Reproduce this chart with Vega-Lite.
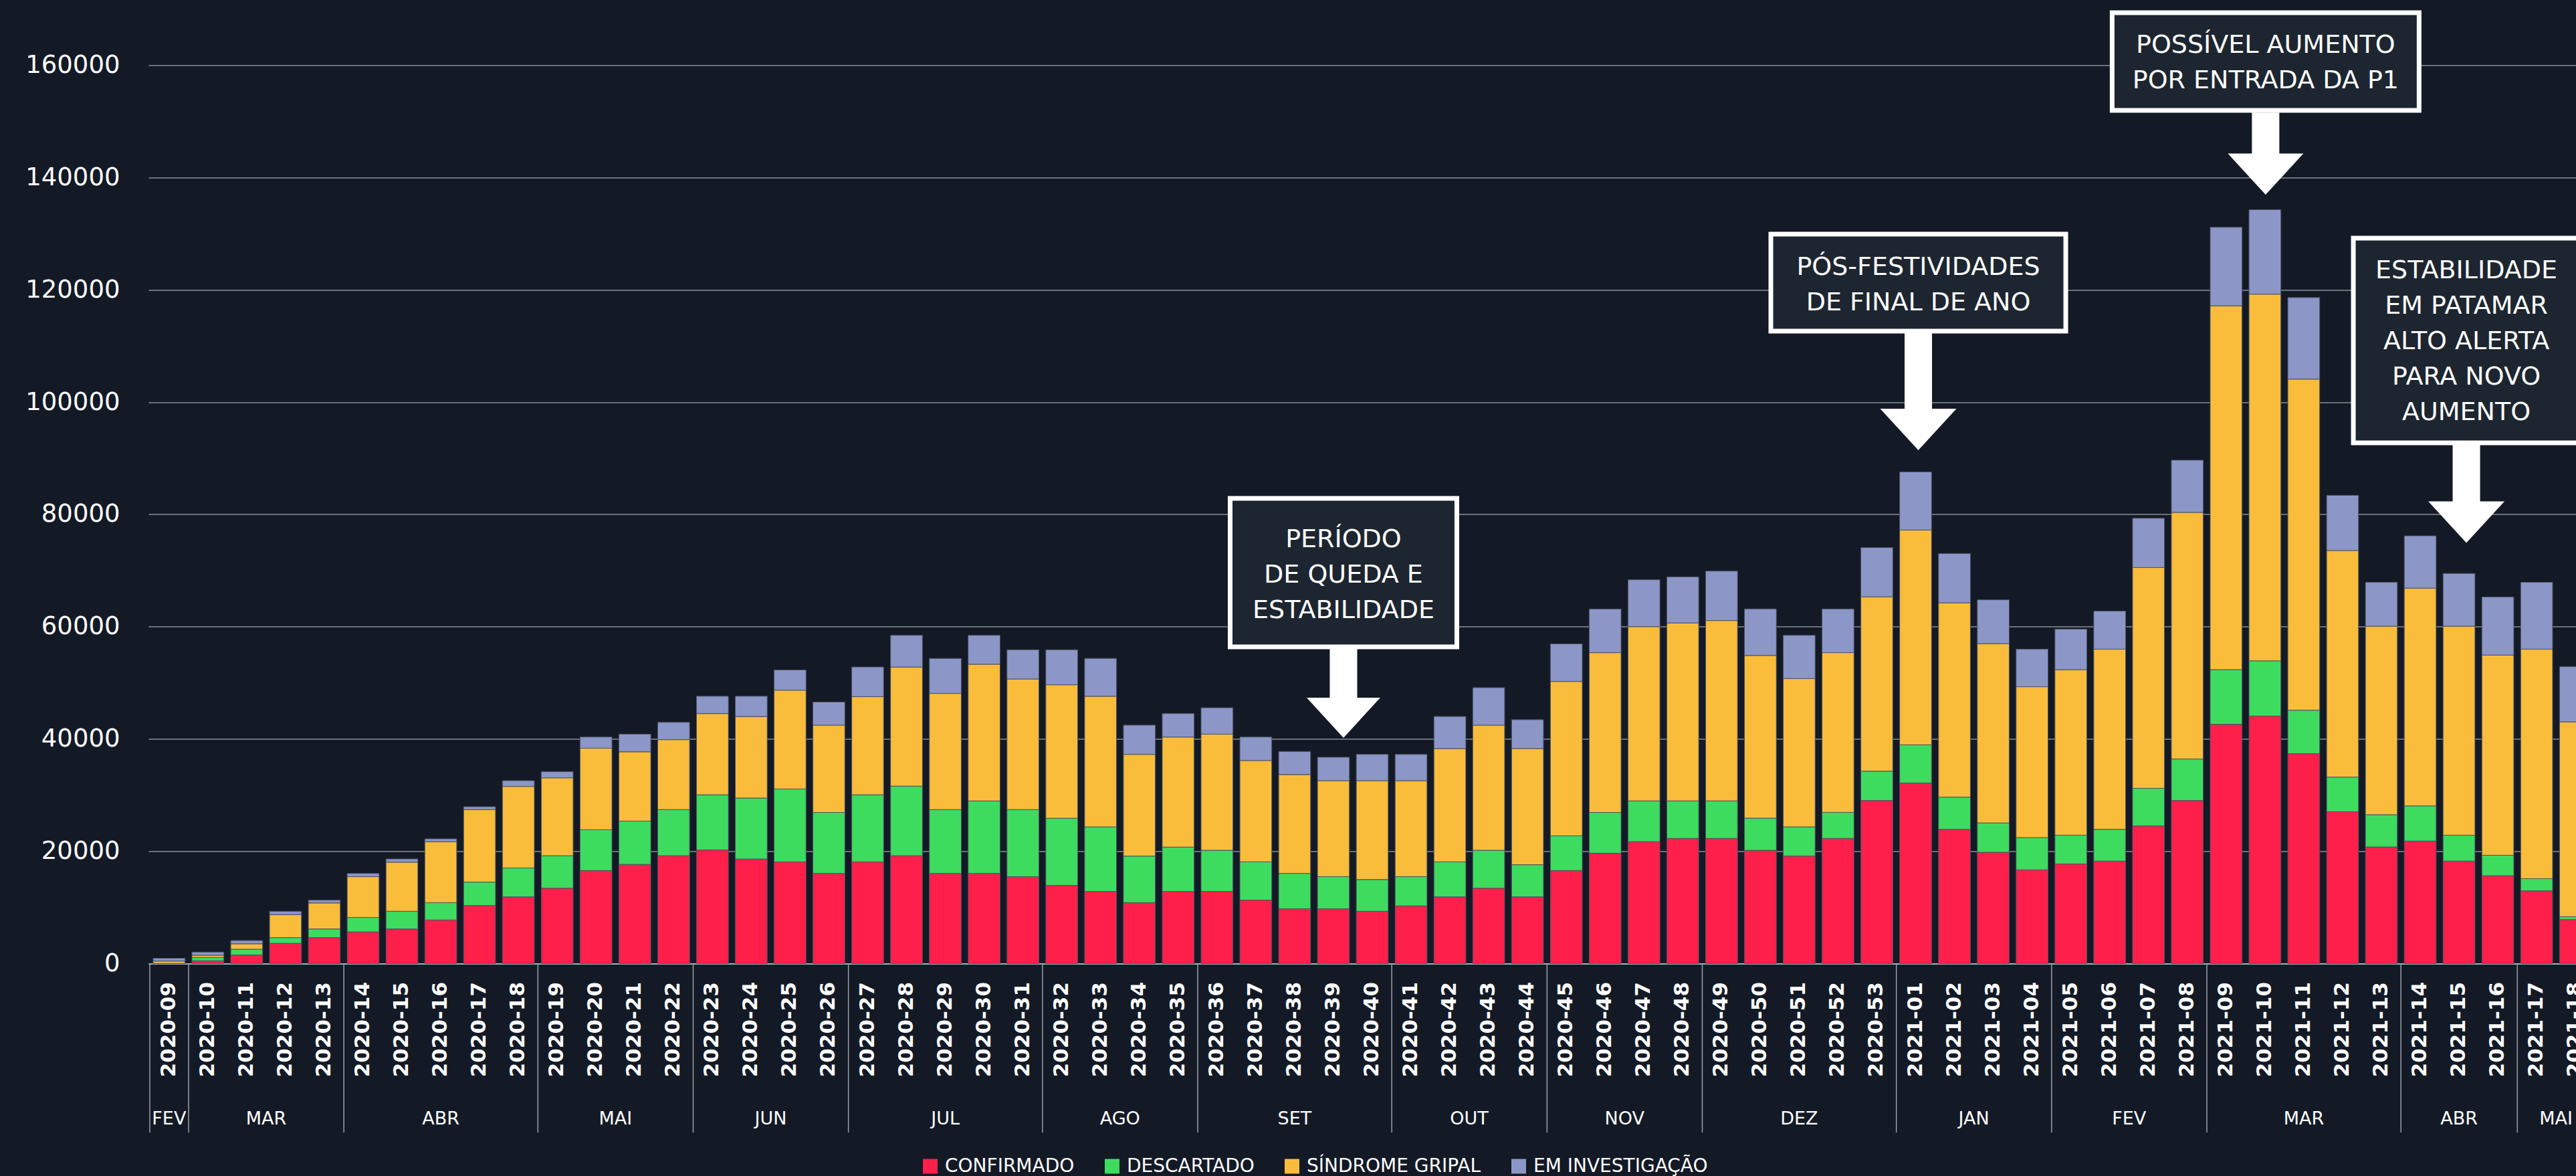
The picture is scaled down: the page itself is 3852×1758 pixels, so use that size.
{
  "$schema": "https://vega.github.io/schema/vega-lite/v6.json",
  "background": "#131a26",
  "autosize": "none",
  "padding": {"left": 222, "top": 13.5, "right": -30, "bottom": 317.5},
  "width": 3660,
  "height": 1427,
  "config": {"view": {"stroke": null}, "font": "DejaVu Sans"},
  "datasets": {
    "categorias": [
      {"categoria": "CONFIRMADO", "ordem": 1},
      {"categoria": "DESCARTADO", "ordem": 2},
      {"categoria": "SÍNDROME GRIPAL", "ordem": 3},
      {"categoria": "EM INVESTIGAÇÃO", "ordem": 4}
    ],
    "meses": [
      {"mes": "FEV", "inicio": "2020-09", "centro": "2020-09", "semanas": 1},
      {"mes": "MAR", "inicio": "2020-10", "centro": "2020-11", "semanas": 4},
      {"mes": "ABR", "inicio": "2020-14", "centro": "2020-16", "semanas": 5},
      {"mes": "MAI", "inicio": "2020-19", "centro": "2020-20", "semanas": 4},
      {"mes": "JUN", "inicio": "2020-23", "centro": "2020-24", "semanas": 4},
      {"mes": "JUL", "inicio": "2020-27", "centro": "2020-29", "semanas": 5},
      {"mes": "AGO", "inicio": "2020-32", "centro": "2020-33", "semanas": 4},
      {"mes": "SET", "inicio": "2020-36", "centro": "2020-38", "semanas": 5},
      {"mes": "OUT", "inicio": "2020-41", "centro": "2020-42", "semanas": 4},
      {"mes": "NOV", "inicio": "2020-45", "centro": "2020-46", "semanas": 4},
      {"mes": "DEZ", "inicio": "2020-49", "centro": "2020-51", "semanas": 5},
      {"mes": "JAN", "inicio": "2021-01", "centro": "2021-02", "semanas": 4},
      {"mes": "FEV", "inicio": "2021-05", "centro": "2021-06", "semanas": 4},
      {"mes": "MAR", "inicio": "2021-09", "centro": "2021-11", "semanas": 5},
      {"mes": "ABR", "inicio": "2021-14", "centro": "2021-15", "semanas": 3},
      {"mes": "MAI", "inicio": "2021-17", "centro": "2021-17", "semanas": 2}
    ],
    "semanas": [
      {"semana": "2020-09", "CONFIRMADO": 0, "DESCARTADO": 30, "SÍNDROME GRIPAL": 420, "EM INVESTIGAÇÃO": 500},
      {"semana": "2020-10", "CONFIRMADO": 510, "DESCARTADO": 580, "SÍNDROME GRIPAL": 390, "EM INVESTIGAÇÃO": 580},
      {"semana": "2020-11", "CONFIRMADO": 1540, "DESCARTADO": 1030, "SÍNDROME GRIPAL": 960, "EM INVESTIGAÇÃO": 580},
      {"semana": "2020-12", "CONFIRMADO": 3600, "DESCARTADO": 1030, "SÍNDROME GRIPAL": 4110, "EM INVESTIGAÇÃO": 580},
      {"semana": "2020-13", "CONFIRMADO": 4630, "DESCARTADO": 1540, "SÍNDROME GRIPAL": 4630, "EM INVESTIGAÇÃO": 510},
      {"semana": "2020-14", "CONFIRMADO": 5650, "DESCARTADO": 2570, "SÍNDROME GRIPAL": 7260, "EM INVESTIGAÇÃO": 580},
      {"semana": "2020-15", "CONFIRMADO": 6170, "DESCARTADO": 3150, "SÍNDROME GRIPAL": 8740, "EM INVESTIGAÇÃO": 580},
      {"semana": "2020-16", "CONFIRMADO": 7770, "DESCARTADO": 3080, "SÍNDROME GRIPAL": 10860, "EM INVESTIGAÇÃO": 510},
      {"semana": "2020-17", "CONFIRMADO": 10340, "DESCARTADO": 4180, "SÍNDROME GRIPAL": 12910, "EM INVESTIGAÇÃO": 510},
      {"semana": "2020-18", "CONFIRMADO": 11890, "DESCARTADO": 5140, "SÍNDROME GRIPAL": 14520, "EM INVESTIGAÇÃO": 1030},
      {"semana": "2020-19", "CONFIRMADO": 13430, "DESCARTADO": 5780, "SÍNDROME GRIPAL": 13880, "EM INVESTIGAÇÃO": 1090},
      {"semana": "2020-20", "CONFIRMADO": 16580, "DESCARTADO": 7260, "SÍNDROME GRIPAL": 14520, "EM INVESTIGAÇÃO": 1990},
      {"semana": "2020-21", "CONFIRMADO": 17670, "DESCARTADO": 7710, "SÍNDROME GRIPAL": 12340, "EM INVESTIGAÇÃO": 3150},
      {"semana": "2020-22", "CONFIRMADO": 19210, "DESCARTADO": 8220, "SÍNDROME GRIPAL": 12460, "EM INVESTIGAÇÃO": 3080},
      {"semana": "2020-23", "CONFIRMADO": 20240, "DESCARTADO": 9830, "SÍNDROME GRIPAL": 14460, "EM INVESTIGAÇÃO": 3080},
      {"semana": "2020-24", "CONFIRMADO": 18630, "DESCARTADO": 10860, "SÍNDROME GRIPAL": 14520, "EM INVESTIGAÇÃO": 3600},
      {"semana": "2020-25", "CONFIRMADO": 18120, "DESCARTADO": 12980, "SÍNDROME GRIPAL": 17600, "EM INVESTIGAÇÃO": 3600},
      {"semana": "2020-26", "CONFIRMADO": 16060, "DESCARTADO": 10860, "SÍNDROME GRIPAL": 15550, "EM INVESTIGAÇÃO": 4110},
      {"semana": "2020-27", "CONFIRMADO": 18120, "DESCARTADO": 11950, "SÍNDROME GRIPAL": 17480, "EM INVESTIGAÇÃO": 5270},
      {"semana": "2020-28", "CONFIRMADO": 19210, "DESCARTADO": 12400, "SÍNDROME GRIPAL": 21200, "EM INVESTIGAÇÃO": 5650},
      {"semana": "2020-29", "CONFIRMADO": 16060, "DESCARTADO": 11370, "SÍNDROME GRIPAL": 20690, "EM INVESTIGAÇÃO": 6230},
      {"semana": "2020-30", "CONFIRMADO": 16060, "DESCARTADO": 12910, "SÍNDROME GRIPAL": 24350, "EM INVESTIGAÇÃO": 5140},
      {"semana": "2020-31", "CONFIRMADO": 15480, "DESCARTADO": 11950, "SÍNDROME GRIPAL": 23260, "EM INVESTIGAÇÃO": 5200},
      {"semana": "2020-32", "CONFIRMADO": 13940, "DESCARTADO": 11950, "SÍNDROME GRIPAL": 23770, "EM INVESTIGAÇÃO": 6230},
      {"semana": "2020-33", "CONFIRMADO": 12850, "DESCARTADO": 11500, "SÍNDROME GRIPAL": 23260, "EM INVESTIGAÇÃO": 6750},
      {"semana": "2020-34", "CONFIRMADO": 10860, "DESCARTADO": 8290, "SÍNDROME GRIPAL": 18120, "EM INVESTIGAÇÃO": 5200},
      {"semana": "2020-35", "CONFIRMADO": 12850, "DESCARTADO": 7900, "SÍNDROME GRIPAL": 19600, "EM INVESTIGAÇÃO": 4180},
      {"semana": "2020-36", "CONFIRMADO": 12850, "DESCARTADO": 7330, "SÍNDROME GRIPAL": 20690, "EM INVESTIGAÇÃO": 4690},
      {"semana": "2020-37", "CONFIRMADO": 11310, "DESCARTADO": 6810, "SÍNDROME GRIPAL": 18050, "EM INVESTIGAÇÃO": 4180},
      {"semana": "2020-38", "CONFIRMADO": 9770, "DESCARTADO": 6300, "SÍNDROME GRIPAL": 17600, "EM INVESTIGAÇÃO": 4110},
      {"semana": "2020-39", "CONFIRMADO": 9770, "DESCARTADO": 5720, "SÍNDROME GRIPAL": 17090, "EM INVESTIGAÇÃO": 4180},
      {"semana": "2020-40", "CONFIRMADO": 9320, "DESCARTADO": 5650, "SÍNDROME GRIPAL": 17610, "EM INVESTIGAÇÃO": 4690},
      {"semana": "2020-41", "CONFIRMADO": 10280, "DESCARTADO": 5200, "SÍNDROME GRIPAL": 17090, "EM INVESTIGAÇÃO": 4690},
      {"semana": "2020-42", "CONFIRMADO": 11890, "DESCARTADO": 6230, "SÍNDROME GRIPAL": 20170, "EM INVESTIGAÇÃO": 5720},
      {"semana": "2020-43", "CONFIRMADO": 13430, "DESCARTADO": 6750, "SÍNDROME GRIPAL": 22290, "EM INVESTIGAÇÃO": 6680},
      {"semana": "2020-44", "CONFIRMADO": 11890, "DESCARTADO": 5720, "SÍNDROME GRIPAL": 20690, "EM INVESTIGAÇÃO": 5140},
      {"semana": "2020-45", "CONFIRMADO": 16580, "DESCARTADO": 6170, "SÍNDROME GRIPAL": 27500, "EM INVESTIGAÇÃO": 6680},
      {"semana": "2020-46", "CONFIRMADO": 19660, "DESCARTADO": 7260, "SÍNDROME GRIPAL": 28460, "EM INVESTIGAÇÃO": 7770},
      {"semana": "2020-47", "CONFIRMADO": 21720, "DESCARTADO": 7260, "SÍNDROME GRIPAL": 31030, "EM INVESTIGAÇÃO": 8350},
      {"semana": "2020-48", "CONFIRMADO": 22300, "DESCARTADO": 6680, "SÍNDROME GRIPAL": 31680, "EM INVESTIGAÇÃO": 8220},
      {"semana": "2020-49", "CONFIRMADO": 22300, "DESCARTADO": 6680, "SÍNDROME GRIPAL": 32120, "EM INVESTIGAÇÃO": 8800},
      {"semana": "2020-50", "CONFIRMADO": 20180, "DESCARTADO": 5720, "SÍNDROME GRIPAL": 28980, "EM INVESTIGAÇÃO": 8290},
      {"semana": "2020-51", "CONFIRMADO": 19150, "DESCARTADO": 5200, "SÍNDROME GRIPAL": 26410, "EM INVESTIGAÇÃO": 7710},
      {"semana": "2020-52", "CONFIRMADO": 22300, "DESCARTADO": 4630, "SÍNDROME GRIPAL": 28460, "EM INVESTIGAÇÃO": 7770},
      {"semana": "2020-53", "CONFIRMADO": 29050, "DESCARTADO": 5220, "SÍNDROME GRIPAL": 31040, "EM INVESTIGAÇÃO": 8780},
      {"semana": "2021-01", "CONFIRMADO": 32180, "DESCARTADO": 6780, "SÍNDROME GRIPAL": 38260, "EM INVESTIGAÇÃO": 10350},
      {"semana": "2021-02", "CONFIRMADO": 23910, "DESCARTADO": 5740, "SÍNDROME GRIPAL": 34610, "EM INVESTIGAÇÃO": 8780},
      {"semana": "2021-03", "CONFIRMADO": 19830, "DESCARTADO": 5220, "SÍNDROME GRIPAL": 31910, "EM INVESTIGAÇÃO": 7830},
      {"semana": "2021-04", "CONFIRMADO": 16700, "DESCARTADO": 5740, "SÍNDROME GRIPAL": 26870, "EM INVESTIGAÇÃO": 6700},
      {"semana": "2021-05", "CONFIRMADO": 17740, "DESCARTADO": 5130, "SÍNDROME GRIPAL": 29480, "EM INVESTIGAÇÃO": 7220},
      {"semana": "2021-06", "CONFIRMADO": 18260, "DESCARTADO": 5650, "SÍNDROME GRIPAL": 32090, "EM INVESTIGAÇÃO": 6780},
      {"semana": "2021-07", "CONFIRMADO": 24520, "DESCARTADO": 6700, "SÍNDROME GRIPAL": 39310, "EM INVESTIGAÇÃO": 8780},
      {"semana": "2021-08", "CONFIRMADO": 29050, "DESCARTADO": 7390, "SÍNDROME GRIPAL": 43920, "EM INVESTIGAÇÃO": 9300},
      {"semana": "2021-09", "CONFIRMADO": 42610, "DESCARTADO": 9740, "SÍNDROME GRIPAL": 64790, "EM INVESTIGAÇÃO": 14000},
      {"semana": "2021-10", "CONFIRMADO": 44090, "DESCARTADO": 9830, "SÍNDROME GRIPAL": 65310, "EM INVESTIGAÇÃO": 15040},
      {"semana": "2021-11", "CONFIRMADO": 37390, "DESCARTADO": 7740, "SÍNDROME GRIPAL": 58960, "EM INVESTIGAÇÃO": 14520},
      {"semana": "2021-12", "CONFIRMADO": 27050, "DESCARTADO": 6170, "SÍNDROME GRIPAL": 40350, "EM INVESTIGAÇÃO": 9830},
      {"semana": "2021-13", "CONFIRMADO": 20780, "DESCARTADO": 5740, "SÍNDROME GRIPAL": 33570, "EM INVESTIGAÇÃO": 7830},
      {"semana": "2021-14", "CONFIRMADO": 21830, "DESCARTADO": 6260, "SÍNDROME GRIPAL": 38780, "EM INVESTIGAÇÃO": 9310},
      {"semana": "2021-15", "CONFIRMADO": 18260, "DESCARTADO": 4610, "SÍNDROME GRIPAL": 37220, "EM INVESTIGAÇÃO": 9390},
      {"semana": "2021-16", "CONFIRMADO": 15650, "DESCARTADO": 3650, "SÍNDROME GRIPAL": 35650, "EM INVESTIGAÇÃO": 10350},
      {"semana": "2021-17", "CONFIRMADO": 12960, "DESCARTADO": 2170, "SÍNDROME GRIPAL": 40870, "EM INVESTIGAÇÃO": 11910},
      {"semana": "2021-18", "CONFIRMADO": 7830, "DESCARTADO": 520, "SÍNDROME GRIPAL": 34700, "EM INVESTIGAÇÃO": 9830}
    ]
  },
  "layer": [
    {
      "data": {"name": "semanas"},
      "transform": [
        {"fold": ["CONFIRMADO", "DESCARTADO", "SÍNDROME GRIPAL", "EM INVESTIGAÇÃO"], "as": ["categoria", "casos"]},
        {"lookup": "categoria", "from": {"data": {"name": "categorias"}, "key": "categoria", "fields": ["ordem"]}}
      ],
      "mark": {"type": "bar", "stroke": "#4a5162", "strokeWidth": 1},
      "encoding": {
        "x": {
          "field": "semana", "type": "ordinal",
          "scale": {"paddingInner": 0.178, "paddingOuter": 0.12},
          "axis": {
            "title": null, "labelAngle": 270, "labelAlign": "right", "labelBaseline": "middle",
            "labelPadding": 27, "ticks": false, "tickSize": 0, "domainColor": "#a9aeb5", "domainWidth": 2,
            "labelFont": "DejaVu Sans", "labelFontSize": 31, "labelFontWeight": "bold", "labelColor": "#ffffff",
            "labelOverlap": false, "labelBound": false, "grid": false
          }
        },
        "y": {
          "field": "casos", "type": "quantitative", "stack": "zero",
          "scale": {"domain": [0, 170000], "nice": false},
          "axis": {
            "title": null, "values": [0, 20000, 40000, 60000, 80000, 100000, 120000, 140000, 160000],
            "format": "d", "grid": true, "gridColor": "#c3c7cc", "gridWidth": 1.2,
            "domain": false, "ticks": false, "tickSize": 0,
            "labelAlign": "right", "labelBaseline": "middle", "labelPadding": 43,
            "labelFont": "DejaVu Sans", "labelFontSize": 37, "labelColor": "#ffffff"
          }
        },
        "color": {
          "field": "categoria", "type": "nominal",
          "scale": {
            "domain": ["CONFIRMADO", "DESCARTADO", "SÍNDROME GRIPAL", "EM INVESTIGAÇÃO"],
            "range": ["#ff1f4b", "#3ddc5f", "#f9bd3b", "#8c97c8"]
          },
          "legend": {
            "orient": "none", "legendX": 1155, "legendY": 1716, "direction": "horizontal",
            "title": null, "symbolType": "square", "symbolSize": 484, "symbolStrokeWidth": 0,
            "symbolOpacity": 1, "labelFont": "DejaVu Sans", "labelFontSize": 28, "labelColor": "#ffffff",
            "labelOffset": 8, "columnPadding": 42, "labelLimit": 0
          }
        },
        "order": {"field": "ordem", "type": "quantitative"}
      }
    },
    {
      "data": {"name": "meses"},
      "mark": {"type": "rule", "color": "#9aa0a8", "strokeWidth": 1.5, "xOffset": -5},
      "encoding": {
        "x": {"field": "inicio", "type": "ordinal", "bandPosition": 0},
        "y": {"datum": 0},
        "y2": {"datum": -30080}
      }
    },
    {
      "data": {"name": "meses"},
      "transform": [{"filter": "datum.semanas % 2 == 1"}],
      "mark": {"type": "text", "color": "#ffffff", "font": "DejaVu Sans", "fontSize": 27, "baseline": "middle", "align": "center"},
      "encoding": {
        "x": {"field": "centro", "type": "ordinal"},
        "y": {"datum": -27700},
        "text": {"field": "mes"}
      }
    },
    {
      "data": {"name": "meses"},
      "transform": [{"filter": "datum.semanas % 2 == 0"}],
      "mark": {"type": "text", "color": "#ffffff", "font": "DejaVu Sans", "fontSize": 27, "baseline": "middle", "align": "center", "xOffset": 29},
      "encoding": {
        "x": {"field": "centro", "type": "ordinal"},
        "y": {"datum": -27700},
        "text": {"field": "mes"}
      }
    },
    {
      "data": {"values": [{"semana": "2020-39", "texto": "PERÍODO\nDE QUEDA E\nESTABILIDADE"}]},
      "layer": [
        {
          "mark": {"type": "point", "shape": "M-1,-0.6549H1V0.6549H-1Z", "size": 114921, "filled": true, "fill": "#1d2630", "stroke": "#ffffff", "strokeWidth": 7, "opacity": 1, "xOffset": 15},
          "encoding": {"x": {"field": "semana", "type": "ordinal"}, "y": {"datum": 69632}}
        },
        {
          "mark": {"type": "rule", "color": "#ffffff", "strokeWidth": 41, "xOffset": 15},
          "encoding": {"x": {"field": "semana", "type": "ordinal"}, "y": {"datum": 56050}, "y2": {"datum": 47353}}
        },
        {
          "mark": {"type": "point", "shape": "M-1,-0.545L1,-0.545L0,0.545Z", "size": 12100, "filled": true, "color": "#ffffff", "opacity": 1, "xOffset": 15},
          "encoding": {"x": {"field": "semana", "type": "ordinal"}, "y": {"datum": 43780}}
        },
        {
          "mark": {"type": "text", "color": "#ffffff", "font": "DejaVu Sans", "fontSize": 38, "align": "center", "baseline": "middle", "lineBreak": "\n", "lineHeight": 53, "xOffset": 15},
          "encoding": {"x": {"field": "semana", "type": "ordinal"}, "y": {"datum": 75528}, "text": {"field": "texto"}}
        }
      ]
    },
    {
      "data": {"values": [{"semana": "2021-01", "texto": "PÓS-FESTIVIDADES\nDE FINAL DE ANO"}]},
      "layer": [
        {
          "mark": {"type": "point", "shape": "M-1,-0.3288H1V0.3288H-1Z", "size": 194481, "filled": true, "fill": "#1d2630", "stroke": "#ffffff", "strokeWidth": 7, "opacity": 1, "xOffset": 4},
          "encoding": {"x": {"field": "semana", "type": "ordinal"}, "y": {"datum": 121274}}
        },
        {
          "mark": {"type": "rule", "color": "#ffffff", "strokeWidth": 41, "xOffset": 4},
          "encoding": {"x": {"field": "semana", "type": "ordinal"}, "y": {"datum": 112276}, "y2": {"datum": 98815}}
        },
        {
          "mark": {"type": "point", "shape": "M-1,-0.545L1,-0.545L0,0.545Z", "size": 12996, "filled": true, "color": "#ffffff", "opacity": 1, "xOffset": 4},
          "encoding": {"x": {"field": "semana", "type": "ordinal"}, "y": {"datum": 95122}}
        },
        {
          "mark": {"type": "text", "color": "#ffffff", "font": "DejaVu Sans", "fontSize": 38, "align": "center", "baseline": "middle", "lineBreak": "\n", "lineHeight": 53, "xOffset": 4},
          "encoding": {"x": {"field": "semana", "type": "ordinal"}, "y": {"datum": 124014}, "text": {"field": "texto"}}
        }
      ]
    },
    {
      "data": {"values": [{"semana": "2021-10", "texto": "POSSÍVEL AUMENTO\nPOR ENTRADA DA P1"}]},
      "layer": [
        {
          "mark": {"type": "point", "shape": "M-1,-0.3181H1V0.3181H-1Z", "size": 210681, "filled": true, "fill": "#1d2630", "stroke": "#ffffff", "strokeWidth": 7, "opacity": 1, "xOffset": 1},
          "encoding": {"x": {"field": "semana", "type": "ordinal"}, "y": {"datum": 160646}}
        },
        {
          "mark": {"type": "rule", "color": "#ffffff", "strokeWidth": 41, "xOffset": 1},
          "encoding": {"x": {"field": "semana", "type": "ordinal"}, "y": {"datum": 151556}, "y2": {"datum": 144051}}
        },
        {
          "mark": {"type": "point", "shape": "M-1,-0.545L1,-0.545L0,0.545Z", "size": 12769, "filled": true, "color": "#ffffff", "opacity": 1, "xOffset": 1},
          "encoding": {"x": {"field": "semana", "type": "ordinal"}, "y": {"datum": 140600}}
        },
        {
          "mark": {"type": "text", "color": "#ffffff", "font": "DejaVu Sans", "fontSize": 38, "align": "center", "baseline": "middle", "lineBreak": "\n", "lineHeight": 53, "xOffset": 1},
          "encoding": {"x": {"field": "semana", "type": "ordinal"}, "y": {"datum": 163475}, "text": {"field": "texto"}}
        }
      ]
    },
    {
      "data": {"values": [{"semana": "2021-15", "texto": "ESTABILIDADE\nEM PATAMAR\nALTO ALERTA\nPARA NOVO\nAUMENTO"}]},
      "layer": [
        {
          "mark": {"type": "point", "shape": "M-1,-0.9053H1V0.9053H-1Z", "size": 114244, "filled": true, "fill": "#1d2630", "stroke": "#ffffff", "strokeWidth": 7, "opacity": 1, "xOffset": 11},
          "encoding": {"x": {"field": "semana", "type": "ordinal"}, "y": {"datum": 110970}}
        },
        {
          "mark": {"type": "rule", "color": "#ffffff", "strokeWidth": 41, "xOffset": 11},
          "encoding": {"x": {"field": "semana", "type": "ordinal"}, "y": {"datum": 92386}, "y2": {"datum": 82260}}
        },
        {
          "mark": {"type": "point", "shape": "M-1,-0.545L1,-0.545L0,0.545Z", "size": 12996, "filled": true, "color": "#ffffff", "opacity": 1, "xOffset": 11},
          "encoding": {"x": {"field": "semana", "type": "ordinal"}, "y": {"datum": 78626}}
        },
        {
          "mark": {"type": "text", "color": "#ffffff", "font": "DejaVu Sans", "fontSize": 38, "align": "center", "baseline": "middle", "lineBreak": "\n", "lineHeight": 53, "xOffset": 11},
          "encoding": {"x": {"field": "semana", "type": "ordinal"}, "y": {"datum": 123360}, "text": {"field": "texto"}}
        }
      ]
    }
  ]
}
